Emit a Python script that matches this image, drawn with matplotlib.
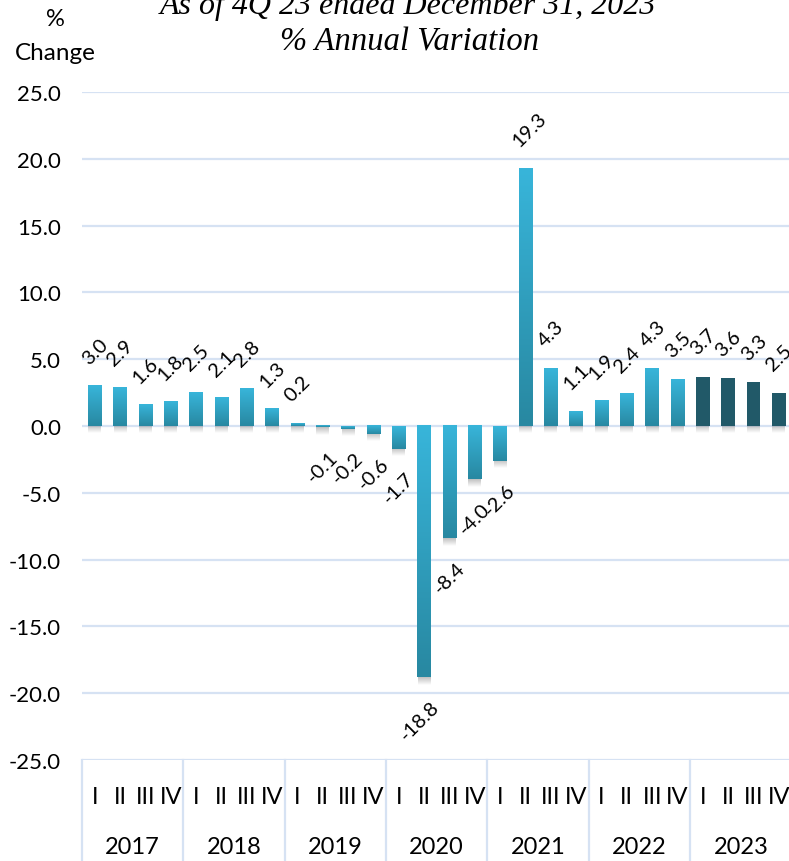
import numpy as np
import matplotlib
matplotlib.use('Agg')
import matplotlib.pyplot as plt
from matplotlib.colors import LinearSegmentedColormap
import matplotlib.transforms as mtransforms

# Data
years = ['2017', '2018', '2019', '2020', '2021', '2022', '2023']
quarters = ['I', 'II', 'III', 'IV']
growth = [3.0, 2.9, 1.6, 1.8,
          2.5, 2.1, 2.8, 1.3,
          0.2, -0.1, -0.2, -0.6,
          -1.7, -18.8, -8.4, -4.0,
          -2.6, 19.3, 4.3, 1.1,
          1.9, 2.4, 4.3, 3.5,
          3.7, 3.6, 3.3, 2.5]
yticks = [25, 20, 15, 10, 5, 0, -5, -10, -15, -20, -25]

plt.rcParams['font.family'] = ['Lato', 'DejaVu Sans']

W, H, dpi = 789, 862, 100
fig = plt.figure(figsize=(W / dpi, H / dpi), dpi=dpi)
ax = fig.add_axes([82 / W, (H - 761) / H, 709.5 / W, 668 / H])

grid_col = '#D6E2F3'
light = '#38B5DA'
dark = '#2888A1'
dark_2023 = '#215968'
grad_cmap = LinearSegmentedColormap.from_list('bar', [light, dark])
bar_w = 0.54
n = len(growth)

grad = np.linspace(0, 1, 128).reshape(-1, 1)
# grey shadow: opaque at top, fading downward
shadow = np.zeros((32, 1, 4))
shadow[:, 0, :3] = 0.45
shadow[:, 0, 3] = np.linspace(0.45, 0.0, 32)

for i, v in enumerate(growth):
    lo, hi = min(0, v), max(0, v)
    x0, x1 = i - bar_w / 2, i + bar_w / 2
    # shadow under the lower end of the bar
    ax.imshow(shadow, extent=(x0 + 0.02, x1 - 0.02, lo - 0.55, lo), origin='upper',
              aspect='auto', interpolation='bilinear', zorder=2)
    if i >= 24:
        ax.bar(i, v, width=bar_w, color=dark_2023, zorder=3)
    else:
        ax.imshow(grad, extent=(x0, x1, lo, hi), origin='upper', cmap=grad_cmap,
                  aspect='auto', interpolation='bilinear', zorder=3)

# data labels
for i, v in enumerate(growth):
    if v >= 0:
        ax.annotate(f'{v:.1f}', (i, v), xytext=(-7, 18), textcoords='offset points',
                    rotation=45, rotation_mode='anchor', ha='left', va='center',
                    fontsize=14.5, color='black', zorder=5)
    else:
        ax.annotate(f'{v:.1f}', (i, v), xytext=(9, -19), textcoords='offset points',
                    rotation=45, rotation_mode='anchor', ha='right', va='center',
                    fontsize=14.5, color='black', zorder=5)

ax.set_xlim(-0.5, n - 0.5)
ax.set_ylim(-25, 25)
ax.set_yticks(yticks)
ax.set_yticklabels([f'{t:.1f}' for t in yticks], fontsize=16)
ax.tick_params(axis='y', length=0, pad=15)
ax.set_xticks([])
for s in ax.spines.values():
    s.set_visible(False)
for t in yticks:
    ax.axhline(t, color=grid_col, lw=1.6, zorder=1)

# category axis: quarters, years and separators
trans = mtransforms.blended_transform_factory(ax.transData, ax.transAxes)
for i in range(n):
    ax.text(i, -0.054, quarters[i % 4], transform=trans, ha='center', va='center',
            fontsize=17, color='black')
for k, yr in enumerate(years):
    ax.text(4 * k + 1.5, -0.129, yr, transform=trans, ha='center', va='center',
            fontsize=17, color='black')
for k in range(len(years) + 1):
    ax.plot([4 * k - 0.5, 4 * k - 0.5], [0, -0.16], transform=trans, color=grid_col,
            lw=1.6, clip_on=False)

# titles
fig.text(408 / W, 1 - 6 / H, 'As of 4Q 23 ended December 31, 2023', ha='center', va='center',
         fontsize=23, style='italic', family='Liberation Serif')
fig.text(410 / W, 1 - 42 / H, '% Annual Variation', ha='center', va='center',
         fontsize=23.5, style='italic', family='Liberation Serif')
fig.text(55 / W, 1 - 20 / H, '%', ha='center', va='center', fontsize=17)
fig.text(55 / W, 1 - 53 / H, 'Change', ha='center', va='center', fontsize=17.5)

fig.savefig('out.png', dpi=dpi)
